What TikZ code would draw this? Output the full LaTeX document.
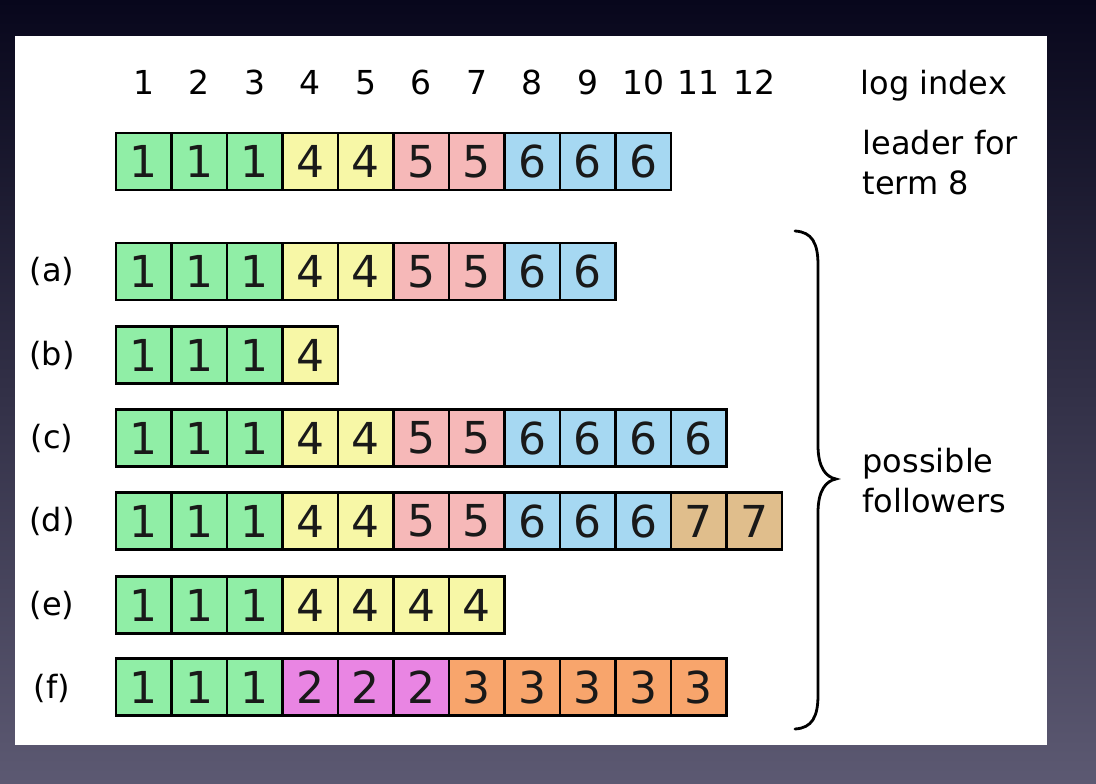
\documentclass[tikz,border=0pt]{standalone}
\usepackage{fontspec}
\setmainfont{DejaVu Sans}
\definecolor{cg}{HTML}{90EEA6}
\definecolor{cy}{HTML}{F7F7A6}
\definecolor{cp}{HTML}{F6B8B8}
\definecolor{cb}{HTML}{A6D8F2}
\definecolor{ct}{HTML}{E0BE8C}
\definecolor{cm}{HTML}{E985E3}
\definecolor{co}{HTML}{F8A56C}
\definecolor{bgtop}{HTML}{08071C}
\definecolor{bgbot}{HTML}{5C5972}
\begin{document}
\begin{tikzpicture}[x=1pt,y=-1pt,
  cell/.style={draw=black, line width=2.4pt, minimum width=55.5pt, minimum height=57pt,
    inner sep=0pt, outer sep=0pt, font=\fontsize{44}{44}\selectfont, text=black!90},
  idx/.style={font=\fontsize{33}{33}\selectfont, anchor=base},
  lbl/.style={font=\fontsize{32}{32}\selectfont, anchor=base west},
  rowlbl/.style={font=\fontsize{32}{32}\selectfont}]
\useasboundingbox (0,0) rectangle (1096,784);
\shade[top color=bgtop, bottom color=bgbot] (0,0) rectangle (1096,784);
\fill[white] (15,36) rectangle (1047,745);

% header indices
\foreach \i in {1,...,12}
  \node[idx] (h\i) at ({116+(\i-0.5)*55.5},95) {\i};
\node[lbl] (loglbl) at (857,95) {log index};
\node[lbl] (lead1) at (859,154) {leader for};
\node[lbl] (lead2) at (859,194) {term 8};

% leader row
\foreach \v/\c [count=\i] in {1/cg,1/cg,1/cg,4/cy,4/cy,5/cp,5/cp,6/cb,6/cb,6/cb}
  \node[cell, fill=\c] (L\i) at ({116+(\i-0.5)*55.5},161.5) {\v};

% follower rows
\node[rowlbl] (la) at (52,271) {(a)};
\foreach \v/\c [count=\i] in {1/cg,1/cg,1/cg,4/cy,4/cy,5/cp,5/cp,6/cb,6/cb}
  \node[cell, fill=\c] (a\i) at ({116+(\i-0.5)*55.5},271.5) {\v};

\node[rowlbl] (lb) at (52,355) {(b)};
\foreach \v/\c [count=\i] in {1/cg,1/cg,1/cg,4/cy}
  \node[cell, fill=\c] (b\i) at ({116+(\i-0.5)*55.5},355) {\v};

\node[rowlbl] (lc) at (52,438) {(c)};
\foreach \v/\c [count=\i] in {1/cg,1/cg,1/cg,4/cy,4/cy,5/cp,5/cp,6/cb,6/cb,6/cb,6/cb}
  \node[cell, fill=\c] (c\i) at ({116+(\i-0.5)*55.5},438) {\v};

\node[rowlbl] (ld) at (52,521) {(d)};
\foreach \v/\c [count=\i] in {1/cg,1/cg,1/cg,4/cy,4/cy,5/cp,5/cp,6/cb,6/cb,6/cb,7/ct,7/ct}
  \node[cell, fill=\c] (d\i) at ({116+(\i-0.5)*55.5},521) {\v};

\node[rowlbl] (le) at (52,605) {(e)};
\foreach \v/\c [count=\i] in {1/cg,1/cg,1/cg,4/cy,4/cy,4/cy,4/cy}
  \node[cell, fill=\c] (e\i) at ({116+(\i-0.5)*55.5},605) {\v};

\node[rowlbl] (lf) at (52,688) {(f)};
\foreach \v/\c [count=\i] in {1/cg,1/cg,1/cg,2/cm,2/cm,2/cm,3/co,3/co,3/co,3/co,3/co}
  \node[cell, fill=\c] (f\i) at ({116+(\i-0.5)*55.5},687) {\v};

% brace
\draw[line width=2.8pt, line cap=round]
  (795,231) .. controls (812,232) and (818,243) .. (818,265)
  -- (818,445) .. controls (818,468) and (826,477) .. (836,479)
  .. controls (826,481) and (818,490) .. (818,513)
  -- (818,695) .. controls (818,717) and (812,728) .. (795,729);

\node[lbl] (pos1) at (859,472) {possible};
\node[lbl] (pos2) at (859,512) {followers};
\end{tikzpicture}
\end{document}
